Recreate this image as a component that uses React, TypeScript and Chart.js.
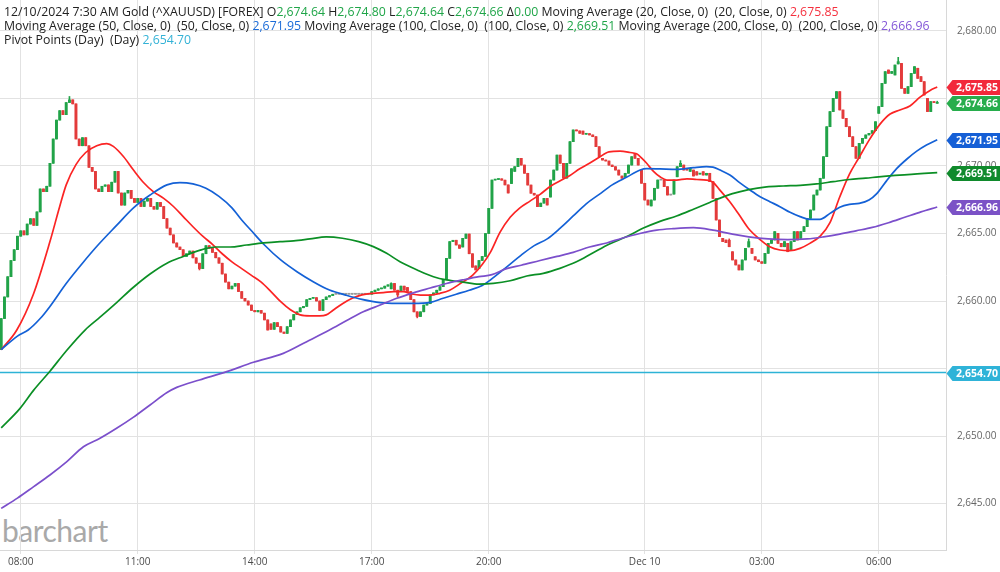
import React, { useEffect, useRef } from 'react';
import { Chart, registerables } from 'chart.js';

Chart.register(...registerables);

// ---- axis ticks ----
const tickIdx = [6, 42, 78, 114, 150, 198, 234, 270];
const tickLabels = ['08:00', '11:00', '14:00', '17:00', '20:00', 'Dec 10', '03:00', '06:00'];
const yTicks = [2645, 2650, 2655, 2660, 2665, 2670, 2675, 2680];

// ---- 5-minute candles, 07:30 Dec 9 -> 07:30 Dec 10 (index 0..288) ----
const firstOpen = 2656.4;
const closes = [
  2658.7, 2660.3, 2661.8, 2663.0, 2663.8, 2664.8, 2665.2, 2664.9, 2665.7, 2666.1,
  2665.6, 2666.6, 2668.3, 2668.1, 2668.5, 2670.2, 2672.0, 2673.4, 2674.1, 2673.8,
  2674.7, 2674.9, 2674.6, 2672.0, 2671.5, 2672.1, 2671.5, 2669.9, 2669.6, 2668.3,
  2668.1, 2668.5, 2668.6, 2668.1, 2668.8, 2669.6, 2668.0, 2667.1, 2668.0, 2668.2,
  2667.6, 2667.3, 2667.6, 2667.0, 2667.4, 2667.6, 2667.0, 2666.8, 2667.3, 2667.0,
  2666.1, 2665.4, 2664.9, 2664.3, 2664.0, 2663.8, 2663.3, 2663.5, 2663.7, 2663.2,
  2662.8, 2662.4, 2663.5, 2664.1, 2663.9, 2663.6, 2663.2, 2662.8, 2662.0, 2661.4,
  2660.9, 2661.1, 2661.3, 2660.7, 2660.2, 2660.0, 2659.7, 2659.3, 2659.2, 2659.3,
  2659.1, 2658.6, 2657.85, 2657.9, 2658.4, 2658.1, 2657.7, 2657.6, 2658.1, 2658.6,
  2659.0, 2659.2, 2659.5, 2659.6, 2660.1, 2660.2, 2660.25, 2660.0, 2659.3, 2660.1,
  2660.3, 2660.4, 2660.5, 2660.5, 2660.5, 2660.5, 2660.5, 2660.5, 2660.5, 2660.5,
  2660.5, 2660.5, 2660.5, 2660.5, 2660.7, 2660.8, 2660.9, 2660.95, 2661.1, 2661.2,
  2661.3, 2660.8, 2660.45, 2661.1, 2660.8, 2660.7, 2660.1, 2659.2, 2658.85, 2659.2,
  2659.7, 2659.8, 2660.45, 2660.6, 2660.8, 2661.06, 2661.6, 2663.16, 2664.4, 2664.5,
  2664.15, 2663.9, 2664.64, 2664.96, 2663.5, 2662.5, 2662.3, 2663.0, 2663.3, 2665.0,
  2666.86, 2668.96, 2669.0, 2669.05, 2668.95, 2668.6, 2668.0, 2669.8, 2669.95, 2670.57,
  2670.07, 2669.46, 2668.59, 2667.98, 2667.85, 2666.99, 2667.25, 2667.6, 2667.11, 2668.96,
  2669.7, 2670.81, 2670.2, 2669.1, 2670.2, 2671.8, 2672.67, 2672.6, 2672.42, 2672.35,
  2672.4, 2672.3, 2672.17, 2671.43, 2670.69, 2670.44, 2670.37, 2670.07, 2669.95, 2669.7,
  2669.33, 2669.09, 2669.46, 2670.07, 2670.69, 2670.57, 2670.07, 2668.72, 2667.48, 2667.11,
  2667.48, 2668.35, 2668.96, 2668.96, 2668.47, 2667.85, 2667.85, 2668.96, 2669.95, 2670.2,
  2669.7, 2669.7, 2669.83, 2669.26, 2669.33, 2669.46, 2669.33, 2669.46, 2668.84, 2667.6,
  2666.0, 2664.77, 2664.4, 2664.32, 2664.02, 2663.04, 2662.67, 2662.3, 2663.04, 2663.9,
  2664.4, 2663.53, 2663.04, 2662.91, 2662.79, 2663.53, 2664.27, 2664.52, 2665.14, 2664.27,
  2664.02, 2664.4, 2663.65, 2664.4, 2665.14, 2664.52, 2665.14, 2665.51, 2666.12, 2666.74,
  2667.85, 2668.22, 2669.09, 2670.69, 2672.91, 2674.03, 2675.01, 2675.51, 2674.15, 2673.53,
  2672.91, 2672.17, 2671.43, 2670.57, 2671.68, 2672.05, 2672.3, 2672.42, 2672.62, 2673.28,
  2674.4, 2676.12, 2676.99, 2676.86, 2677.0, 2677.48, 2677.73, 2675.75, 2675.38, 2675.88,
  2676.86, 2677.36, 2676.49, 2676.25, 2675.26, 2674.03, 2674.77, 2674.7, 2674.66,
];
// candles whose open differs from the previous close: [index, open]
const openOverrides: [number, number][] = [
  [83, 2658.3], [120, 2660.9], [123, 2660.7], [125, 2661.0], [142, 2664.0], [146, 2662.6],
  [147, 2662.4], [157, 2668.7], [158, 2669.6], [169, 2667.7], [179, 2672.59], [185, 2670.57],
  [191, 2669.26], [192, 2669.16], [195, 2670.94], [197, 2669.7], [200, 2667.04], [207, 2667.92],
  [208, 2669.2], [210, 2670.07], [211, 2669.8], [212, 2669.6], [213, 2669.7], [214, 2669.58],
  [215, 2669.4], [216, 2669.58], [222, 2664.64], [223, 2664.52], [224, 2664.5], [225, 2663.65],
  [230, 2664.0], [231, 2663.9], [232, 2663.28], [239, 2665.01], [242, 2664.27], [243, 2663.78],
  [246, 2664.64], [270, 2673.9], [273, 2677.11], [275, 2676.74], [276, 2677.56], [277, 2677.6],
  [282, 2677.24], [283, 2676.62], [285, 2675.01], [288, 2674.64],
];
// visible wick extremes: [index, value]
const highWicks: [number, number][] = [
  [21, 2675.15], [120, 2661.35], [209, 2670.4], [224, 2664.6], [230, 2664.6], [276, 2678.05], [288, 2674.8],
];
const lowWicks: [number, number][] = [
  [61, 2662.3], [122, 2660.3], [128, 2658.75],
];

// ---- studies: [candle index, value] ----
const ma20: [number, number][] = [
  [0, 2656.4], [4.8, 2657.85], [9.9, 2660.5], [15, 2664.4], [18, 2667.0], [20, 2668.6], [23, 2670.1],
  [26, 2671.0], [29.4, 2671.5], [32.5, 2671.65], [34.5, 2671.45], [37.6, 2670.7], [40.7, 2669.7],
  [43.7, 2668.8], [46.8, 2668.1], [50, 2667.6], [53, 2667.0], [56, 2666.25], [59, 2665.5],
  [62, 2664.8], [65, 2664.2], [68, 2663.5], [71, 2662.9], [74, 2662.4], [77, 2661.9], [80, 2661.4],
  [83, 2660.7], [86, 2659.95], [89, 2659.35], [92, 2658.97], [95, 2658.9], [98, 2658.9],
  [100, 2658.97], [102, 2659.3], [105, 2659.8], [108, 2660.2], [111, 2660.45], [114.5, 2660.57],
  [117.6, 2660.62], [120.7, 2660.69], [123.7, 2660.69], [126.3, 2660.52], [129, 2660.44],
  [132, 2660.44], [135, 2660.57], [138, 2660.8], [141, 2661.25], [145, 2661.9], [148, 2662.7],
  [150.5, 2663.6], [153.5, 2665.1], [156.6, 2666.2], [159.6, 2666.9], [162.7, 2667.4],
  [165.8, 2667.9], [169, 2668.5], [172, 2668.9], [175, 2669.3], [178, 2669.8], [181, 2670.2],
  [184, 2670.65], [187, 2671.05], [190.4, 2671.1], [193.5, 2671.0], [195.5, 2670.9], [197, 2670.6],
  [198.6, 2670.2], [200.7, 2669.6], [202.7, 2669.2], [204.8, 2668.96], [207.8, 2668.96],
  [211, 2669.05], [214, 2669.0], [217, 2668.96], [219, 2668.8], [221, 2668.25], [224, 2667.4],
  [227, 2666.4], [230, 2665.35], [233.5, 2664.55], [236.5, 2664.02], [239.6, 2663.78],
  [242.7, 2663.73], [245.8, 2663.9], [248.8, 2664.27], [252, 2664.8], [255, 2665.8], [258, 2667.7],
  [261, 2669.4], [264, 2670.65], [267, 2671.9], [270.4, 2673.1], [273.5, 2673.85], [276.5, 2674.15],
  [279.6, 2674.45], [282.7, 2675.1], [285.8, 2675.6], [288, 2675.85],
];
const ma50: [number, number][] = [
  [0, 2656.4], [5, 2657.4], [8.3, 2657.85], [12, 2658.7], [15, 2659.6], [20, 2661.3], [25, 2662.8],
  [30, 2664.2], [35.5, 2665.6], [40.7, 2666.9], [45.8, 2667.85], [51, 2668.6], [55, 2668.77],
  [59, 2668.67], [63, 2668.35], [67, 2667.75], [71, 2666.9], [74, 2666.0], [77, 2665.2],
  [81, 2664.15], [86, 2663.04], [91, 2662.17], [96, 2661.43], [101, 2660.81], [106, 2660.44],
  [111, 2660.12], [116.6, 2659.88], [121.7, 2659.83], [126.8, 2659.83], [132, 2659.9],
  [136, 2660.2], [140, 2660.5], [144, 2660.8], [148, 2661.15], [150.5, 2661.56], [155, 2662.42],
  [160, 2663.4], [164, 2664.1], [168, 2664.6], [172, 2665.4], [176, 2666.3], [180, 2667.2],
  [184, 2667.9], [188, 2668.6], [192.5, 2669.18], [196.6, 2669.7], [198.6, 2669.8],
  [202.7, 2669.78], [207.8, 2669.75], [213, 2669.88], [217, 2669.95], [219, 2669.92],
  [221.2, 2669.7], [224.2, 2669.33], [227.3, 2668.75], [230.4, 2668.22], [233.5, 2667.73],
  [236.5, 2667.36], [239.6, 2666.99], [242.7, 2666.57], [245.8, 2666.25], [248.8, 2666.05],
  [251.9, 2666.05], [255, 2666.49], [258, 2666.95], [261, 2667.16], [264, 2667.23], [267, 2667.48],
  [269.4, 2667.95], [272.4, 2668.9], [275.5, 2669.8], [278.6, 2670.5], [281.7, 2671.1],
  [284.7, 2671.55], [288, 2671.95],
];
const ma100: [number, number][] = [
  [0, 2650.6], [5.8, 2652.05], [10, 2653.4], [15, 2654.8], [20, 2656.3], [25.8, 2657.85],
  [30.4, 2658.8], [35.6, 2659.9], [40.6, 2661.0], [45.8, 2662.0], [51, 2662.8], [56, 2663.3],
  [61, 2663.75], [66, 2664.0], [70.4, 2664.0], [75.5, 2664.15], [80.7, 2664.3], [85.8, 2664.4],
  [90, 2664.45], [95, 2664.6], [100, 2664.75], [105, 2664.65], [110, 2664.4], [114.5, 2664.03],
  [118.6, 2663.53], [122.7, 2662.91], [128, 2662.3], [133, 2661.8], [137, 2661.56], [142, 2661.4],
  [147, 2661.25], [151.4, 2661.3], [156.6, 2661.5], [161.7, 2661.85], [166.8, 2662.05],
  [171.9, 2662.42], [177, 2662.9], [182, 2663.55], [187, 2664.2], [192.5, 2664.77],
  [197.6, 2665.4], [202.7, 2665.9], [207.8, 2666.3], [213, 2666.8], [218, 2667.3], [221, 2667.6],
  [225, 2667.95], [230, 2668.25], [235.5, 2668.45], [240.6, 2668.52], [245.8, 2668.57],
  [250.9, 2668.67], [256, 2668.84], [261, 2669.0], [266, 2669.1], [270, 2669.2], [275, 2669.3],
  [280, 2669.38], [284, 2669.45], [288, 2669.51],
];
const ma200: [number, number][] = [
  [0, 2644.64], [5, 2645.4], [10, 2646.25], [15, 2647.11], [20.2, 2648.1], [25.3, 2649.2],
  [30.4, 2649.83], [35.5, 2650.57], [40.6, 2651.38], [45.8, 2652.3], [50.9, 2653.2], [54, 2653.6],
  [61, 2654.15], [69.4, 2654.77], [77.6, 2655.46], [86.8, 2656.12], [94, 2656.99], [101, 2657.85],
  [106.3, 2658.55], [111.4, 2659.2], [116.6, 2659.7], [121.7, 2660.2], [126.8, 2660.6],
  [132, 2660.96], [137, 2661.3], [142, 2661.56], [147, 2661.8], [151, 2661.95], [155.5, 2662.4],
  [160, 2662.65], [165.8, 2663.0], [171, 2663.3], [176, 2663.6], [181, 2664.0], [186.3, 2664.3],
  [191, 2664.65], [196.5, 2665.0], [201.7, 2665.25], [206.8, 2665.36], [213, 2665.43],
  [219, 2665.25], [225, 2664.95], [230, 2664.75], [236, 2664.6], [242, 2664.55], [248, 2664.6],
  [253, 2664.75], [258, 2664.95], [263, 2665.2], [268, 2665.45], [273, 2665.8], [278, 2666.2],
  [283, 2666.6], [288, 2666.96],
];
const pivotValue = 2654.7;

// last-value tags on the price axis
const tagValues = [2654.7, 2666.96, 2669.51, 2671.95, 2674.66, 2675.85];
const tagColors = ['#2fb3d8', '#7b52c6', '#108a2c', '#155fd6', '#27ad4c', '#f2293b'];

const C_UP = '#21a348';
const C_DN = '#e33b3b';
const C_FLAT = '#9a9a9a';
const C_MA20 = '#fb2424';
const C_MA50 = '#1461d6';
const C_MA100 = '#0b8f25';
const C_MA200 = '#7b4fcb';
const C_PIVOT = '#2db3d6';

// axis window (candle index / price)
const xMin = -0.37;
const xMax = 290.7;
const yMin = 2641.556;
const yMax = 2682.296;

const fmt = (v: number) =>
  v.toLocaleString('en-US', { minimumFractionDigits: 2, maximumFractionDigits: 2 });

const FONT = '"Open Sans", "Noto Sans", sans-serif';

const tagPlugin = {
  id: 'priceTags',
  afterDraw(chart: any) {
    const { ctx, scales, chartArea } = chart;
    const y = scales.y;
    ctx.save();
    tagValues.forEach((v, i) => {
      const py = Math.round(y.getPixelForValue(v)) + 0.5;
      const left = chartArea.right + 0.5;
      const h = 15;
      ctx.beginPath();
      ctx.moveTo(left, py);
      ctx.lineTo(left + 6, py - h / 2);
      ctx.lineTo(1000, py - h / 2);
      ctx.lineTo(1000, py + h / 2);
      ctx.lineTo(left + 6, py + h / 2);
      ctx.closePath();
      ctx.fillStyle = tagColors[i];
      ctx.fill();
      ctx.fillStyle = '#ffffff';
      ctx.font = `bold 10.5px ${FONT}`;
      ctx.textBaseline = 'middle';
      ctx.textAlign = 'left';
      ctx.fillText(fmt(v), left + 9.5, py + 0.5);
    });
    ctx.restore();
  },
};

export default function App() {
  const ref = useRef<HTMLCanvasElement | null>(null);

  useEffect(() => {
    document.body.style.margin = '0';
    const opens = closes.map((_, i) => (i === 0 ? firstOpen : closes[i - 1]));
    openOverrides.forEach(([i, v]) => {
      opens[i] = v;
    });
    const highs = closes.map((c, i) => Math.max(c, opens[i]));
    const lows = closes.map((c, i) => Math.min(c, opens[i]));
    highWicks.forEach(([i, v]) => {
      highs[i] = v;
    });
    lowWicks.forEach(([i, v]) => {
      lows[i] = v;
    });
    const colors = closes.map((c, i) => (c > opens[i] ? C_UP : c < opens[i] ? C_DN : C_FLAT));
    const bodies = closes.map((c, i) => ({ x: i, y: [opens[i], c] }));
    const wicks = closes.map((_, i) => ({ x: i, y: [lows[i], highs[i]] }));
    const pts = (arr: [number, number][]) => arr.map(([x, y]) => ({ x, y }));
    const lineDs = (label: string, data: [number, number][], color: string) => ({
      type: 'line' as const,
      label,
      data: pts(data),
      borderColor: color,
      borderWidth: 1.7,
      pointRadius: 0,
      cubicInterpolationMode: 'monotone' as const,
      fill: false,
      order: 0,
    });

    const chart = new Chart(ref.current as HTMLCanvasElement, {
      type: 'bar',
      data: {
        datasets: [
          {
            type: 'line',
            label: 'Pivot',
            data: [
              { x: -2, y: pivotValue },
              { x: 293, y: pivotValue },
            ],
            borderColor: C_PIVOT,
            borderWidth: 1.6,
            pointRadius: 0,
            fill: false,
            order: 1,
          } as any,
          lineDs('MA200', ma200, C_MA200),
          lineDs('MA100', ma100, C_MA100),
          lineDs('MA50', ma50, C_MA50),
          lineDs('MA20', ma20, C_MA20),
          {
            type: 'bar',
            label: 'wicks',
            data: wicks as any,
            backgroundColor: colors,
            barThickness: 1,
            borderWidth: 0,
            grouped: false,
            order: 3,
          } as any,
          {
            type: 'bar',
            label: 'bodies',
            data: bodies as any,
            backgroundColor: colors,
            barThickness: 2.3,
            minBarLength: 1,
            borderWidth: 0,
            borderSkipped: false,
            grouped: false,
            order: 2,
          } as any,
        ],
      },
      options: {
        animation: false,
        responsive: false,
        maintainAspectRatio: false,
        devicePixelRatio: 1,
        events: [],
        layout: { padding: 0 },
        plugins: { legend: { display: false }, tooltip: { enabled: false } },
        scales: {
          x: {
            type: 'linear',
            min: xMin,
            max: xMax,
            offset: false,
            grid: {
              color: '#e2e2e2',
              lineWidth: 1,
              offset: false,
              drawTicks: true,
              tickLength: 4,
              tickColor: '#e2e2e2',
            },
            border: { display: true, color: '#d8d8d8' },
            ticks: {
              autoSkip: false,
              maxRotation: 0,
              padding: 2,
              color: '#4a4a4a',
              font: { family: FONT, size: 10 },
              callback: (_v: any, i: number) => tickLabels[i],
            },
            afterBuildTicks: (s: any) => {
              s.ticks = tickIdx.map((v) => ({ value: v }));
            },
            afterFit: (s: any) => {
              s.height = 22;
              s.paddingLeft = 0;
              s.paddingRight = 0;
            },
          },
          y: {
            type: 'linear',
            position: 'right',
            min: yMin,
            max: yMax,
            grid: { color: '#e2e2e2', lineWidth: 1, drawTicks: false },
            border: { display: true, color: '#d8d8d8' },
            ticks: {
              padding: 11,
              color: '#666666',
              crossAlign: 'near',
              font: { family: FONT, size: 10 },
              // a price label that sits almost under a value tag is hidden by the tag
              callback: (v: any) =>
                tagValues.some((t) => Math.abs(t - Number(v)) < 0.4) ? '' : fmt(Number(v)),
            },
            afterBuildTicks: (s: any) => {
              s.ticks = yTicks.map((v) => ({ value: v }));
            },
            afterFit: (s: any) => {
              s.width = 54;
              s.paddingTop = 0;
              s.paddingBottom = 0;
            },
          },
        },
      } as any,
      plugins: [tagPlugin],
    });
    return () => chart.destroy();
  }, []);

  const g = { color: '#1fa548' };
  const dark = { color: '#222' };
  return (
    <div
      style={{
        position: 'fixed',
        left: 0,
        top: 0,
        width: 1000,
        height: 572,
        background: '#fff',
        overflow: 'hidden',
        fontFamily: FONT,
      }}
    >
      <div
        style={{
          position: 'absolute',
          left: 2,
          top: 513,
          fontFamily: 'Lato, sans-serif',
          fontSize: 30,
          lineHeight: '34px',
          letterSpacing: -0.5,
          color: '#a9a9a9',
        }}
      >
        barchart
      </div>
      <canvas
        ref={ref}
        width={1000}
        height={572}
        style={{ position: 'absolute', left: 0, top: 0, width: 1000, height: 572 }}
      />
      <div
        style={{
          position: 'absolute',
          left: 4,
          top: 5,
          fontSize: 12.3,
          lineHeight: '14px',
          whiteSpace: 'pre',
          ...dark,
        }}
      >
        <div>
          {'12/10/2024 7:30 AM Gold (^XAUUSD) [FOREX] O'}
          <span style={g}>2,674.64</span>
          {' H'}
          <span style={g}>2,674.80</span>
          {' L'}
          <span style={g}>2,674.64</span>
          {' C'}
          <span style={g}>2,674.66</span>
          {' Δ'}
          <span style={g}>0.00</span>
          {' Moving Average (20, Close, 0)  (20, Close, 0) '}
          <span style={{ color: '#f5303e' }}>2,675.85</span>
        </div>
        <div>
          {'Moving Average (50, Close, 0)  (50, Close, 0) '}
          <span style={{ color: '#1a6bd8' }}>2,671.95</span>
          {' Moving Average (100, Close, 0)  (100, Close, 0) '}
          <span style={g}>2,669.51</span>
          {' Moving Average (200, Close, 0)  (200, Close, 0) '}
          <span style={{ color: '#8458d8' }}>2,666.96</span>
        </div>
        <div>
          {'Pivot Points (Day)  (Day) '}
          <span style={{ color: '#33b2d6' }}>2,654.70</span>
        </div>
      </div>
    </div>
  );
}
